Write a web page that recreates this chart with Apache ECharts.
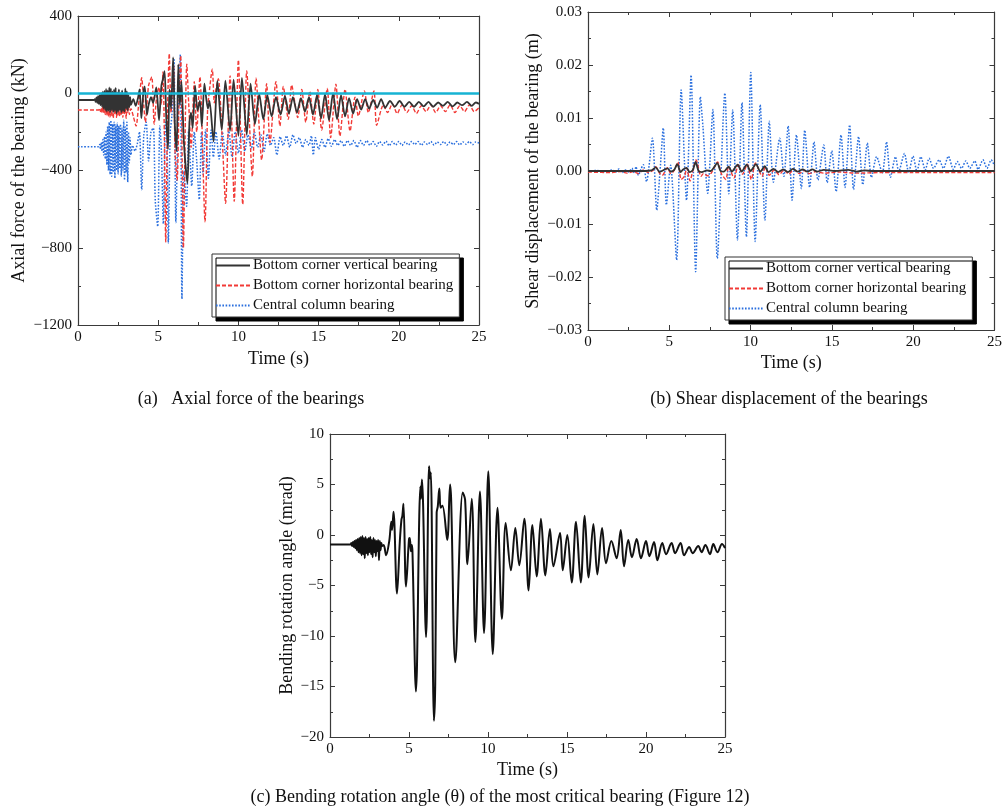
<!DOCTYPE html>
<html>
<head>
<meta charset="utf-8">
<script src="https://cdn.jsdelivr.net/npm/echarts@6/dist/echarts.min.js"></script>
<style>
  html, body { margin: 0; padding: 0; background: #fff; }
  #chart { width: 1005px; height: 810px; }
</style>
</head>
<body>
<div id="chart"></div>
<script>
// ---- (a) axial force of the bearings, kN : [time s, value]
const axialVertical = [[0,-35],[1.0,-35],
  [1.05,-30],[1.1,-45],[1.15,-22],[1.2,-50],[1.25,-15],[1.3,-55],[1.35,-10],[1.4,-62],[1.45,0],[1.5,-70],[1.55,8],[1.6,-80],[1.65,12],[1.7,-88],[1.75,22],[1.8,-95],[1.85,15],[1.9,-90],[1.95,30],[2.0,-100],[2.05,25],[2.1,-88],[2.15,10],[2.2,-98],[2.25,20],[2.3,-92],[2.35,28],[2.4,-105],[2.45,5],[2.5,-95],[2.55,20],[2.6,-88],[2.65,0],[2.7,-100],[2.75,15],[2.8,-92],[2.85,-5],[2.9,-96],[2.95,25],[3.0,-80],[3.05,10],[3.1,-90],[3.15,-10],[3.2,-72],[3.25,-20],[3.3,-60],
  [3.45,-30],[3.6,-65],[3.75,-20],[3.84,20],[3.95,-130],[4.08,10],[4.16,35],[4.3,-110],[4.4,-60],[4.55,-20],[4.68,-50],[4.88,30],[5.05,-140],[5.2,40],[5.3,75],[5.4,115],[5.5,-120],[5.61,-290],[5.7,20],[5.8,-80],[5.93,185],[6.03,-150],[6.15,-300],[6.25,150],[6.35,-60],[6.45,60],[6.6,-250],[6.82,-465],[6.95,-150],[7.05,-100],[7.15,-180],[7.3,40],[7.45,-90],[7.6,-40],[7.72,-170],[7.88,50],[8.0,-30],[8.1,-80],[8.2,-40],[8.45,-250],[8.69,65],[8.96,-190],[9.19,65],[9.48,-195],[9.7,70],[10.0,-220],[10.22,80],[10.52,-215],[10.76,50],[11.03,-160],[11.3,-5],[11.55,-135],[11.8,-10],[12.07,-120],[12.34,-20],[12.63,-110],[12.9,-15],[13.15,-105],[13.4,-20],[13.65,-100],[13.9,-25],[14.15,-95],[14.4,-20],[14.65,-110],[14.9,-10],[15.15,-130],[15.4,-5],[15.65,-140],[15.9,0],[16.15,-135],[16.4,-10],[16.65,-120],[16.9,-25],[17.15,-105],[17.4,-30],[17.65,-85],[17.9,-30],[18.15,-80],[18.4,-35],[18.65,-75],[18.9,-30],[19.15,-75],[19.45,-40],[19.75,-70],[20.05,-40],[20.35,-70],[20.65,-45],[20.95,-70],[21.25,-45],[21.55,-68],[21.85,-45],[22.15,-70],[22.45,-48],[22.75,-65],[23.05,-45],[23.35,-68],[23.65,-48],[23.95,-62],[24.25,-45],[24.55,-65],[24.8,-48],[25,-55]];

const axialHorizontal = [[0,-87],[1.3,-87],
  [1.35,-80],[1.4,-95],[1.45,-75],[1.5,-100],[1.55,-70],[1.6,-105],[1.65,-65],[1.7,-110],[1.75,-60],[1.8,-115],[1.85,-55],[1.9,-120],[1.95,-60],[2.0,-125],[2.05,-50],[2.1,-115],[2.15,-55],[2.2,-130],[2.25,-60],[2.3,-110],[2.35,-50],[2.4,-125],[2.45,-65],[2.5,-115],[2.55,-55],[2.6,-120],[2.65,-60],[2.7,-110],[2.75,-55],[2.8,-125],[2.85,-65],[2.9,-105],[2.95,-55],[3.0,-130],[3.05,-60],[3.1,-100],[3.15,-70],[3.2,-110],[3.3,-80],
  [3.45,-120],[3.62,-170],[3.8,-40],[3.97,80],[4.1,-60],[4.2,-150],[4.4,40],[4.6,85],[4.75,-160],[4.9,-20],[5.05,30],[5.18,-60],[5.3,110],[5.38,-200],[5.47,-770],[5.58,-100],[5.69,205],[5.8,-100],[5.95,150],[6.05,-300],[6.18,-450],[6.3,-50],[6.4,195],[6.57,-800],[6.7,-100],[6.78,150],[6.9,-50],[7.05,-280],[7.25,60],[7.4,-200],[7.6,85],[7.92,-665],[8.08,-80],[8.15,-20],[8.37,125],[8.5,-50],[8.6,20],[8.75,75],[9.0,-250],[9.2,-570],[9.48,90],[9.74,-560],[10.0,172],[10.27,-575],[10.52,115],[10.87,-430],[11.1,78],[11.45,-345],[11.76,50],[11.97,-255],[12.34,60],[12.59,-170],[12.8,35],[13.11,-135],[13.32,42],[13.7,-126],[13.95,20],[14.2,-150],[14.45,10],[14.7,-160],[14.95,20],[15.19,-190],[15.54,25],[15.75,-230],[16.08,47],[16.33,-222],[16.65,20],[16.96,-196],[17.27,-20],[17.48,-118],[17.85,12],[18.1,-100],[18.45,12],[18.62,-166],[19.04,-60],[19.3,-100],[19.6,-55],[19.9,-105],[20.2,-60],[20.5,-100],[20.8,-65],[21.1,-105],[21.4,-65],[21.7,-95],[22.0,-60],[22.3,-100],[22.6,-65],[22.9,-95],[23.2,-60],[23.5,-100],[23.8,-65],[24.1,-95],[24.4,-60],[24.7,-95],[25,-75]];

const axialCentral = [[0,-277],[1.3,-277],
  [1.35,-265],[1.4,-290],[1.45,-255],[1.5,-300],[1.55,-240],[1.6,-320],[1.65,-225],[1.7,-340],[1.75,-200],[1.8,-370],[1.85,-170],[1.9,-400],[1.95,-150],[2.0,-420],[2.05,-140],[2.1,-430],[2.15,-160],[2.2,-410],[2.25,-150],[2.3,-440],[2.35,-165],[2.4,-400],[2.45,-155],[2.5,-420],[2.55,-170],[2.6,-390],[2.65,-160],[2.7,-430],[2.75,-180],[2.8,-400],[2.85,-140],[2.9,-450],[2.95,-175],[3.0,-410],[3.05,-150],[3.1,-460],[3.15,-200],[3.2,-360],[3.25,-230],[3.3,-320],
  [3.4,-270],[3.55,-300],[3.7,-260],[3.83,-200],[3.97,-500],[4.1,-220],[4.25,-150],[4.4,-350],[4.55,-200],[4.7,-180],[4.82,-560],[4.97,-690],[5.1,-170],[5.2,-300],[5.32,-675],[5.45,-150],[5.55,-250],[5.63,-775],[5.75,-200],[5.85,-120],[5.98,180],[6.1,-670],[6.22,-200],[6.38,200],[6.48,-1065],[6.6,-400],[6.77,-585],[6.9,-190],[7.09,-480],[7.25,-200],[7.4,-350],[7.56,-550],[7.7,-200],[7.8,-420],[7.95,-190],[8.13,-440],[8.3,-190],[8.44,-330],[8.6,-200],[8.8,-340],[9.0,-200],[9.2,-320],[9.4,-195],[9.6,-330],[9.8,-200],[10.0,-310],[10.2,-190],[10.4,-300],[10.6,-215],[10.8,-290],[11.0,-200],[11.2,-280],[11.4,-215],[11.6,-300],[11.8,-210],[12.0,-270],[12.2,-230],[12.4,-320],[12.6,-225],[12.8,-270],[13.0,-220],[13.2,-280],[13.4,-215],[13.6,-260],[13.8,-230],[14.0,-280],[14.2,-240],[14.4,-270],[14.55,-220],[14.67,-320],[14.8,-230],[15.0,-290],[15.2,-240],[15.4,-280],[15.6,-235],[15.8,-275],[16.0,-240],[16.2,-270],[16.4,-245],[16.6,-275],[16.8,-245],[17.0,-270],[17.2,-245],[17.4,-280],[17.6,-245],[17.8,-270],[18.0,-245],[18.2,-270],[18.4,-250],[18.6,-275],[18.8,-250],[19.0,-268],[19.2,-248],[19.4,-272],[19.6,-250],[19.8,-268],[20.0,-250],[20.2,-270],[20.4,-252],[20.6,-268],[20.8,-250],[21.0,-266],[21.2,-250],[21.4,-270],[21.6,-252],[21.8,-266],[22.0,-250],[22.2,-268],[22.4,-252],[22.6,-266],[22.8,-250],[23.0,-268],[23.2,-252],[23.4,-266],[23.6,-250],[23.8,-268],[24.0,-252],[24.2,-264],[24.4,-250],[24.6,-266],[24.8,-252],[25,-258]];

// ---- (b) shear displacement of the bearings, m : [time s, value]
const shearVertical = [[0,0],[3.5,0],[3.9,0.0001],[4.17,0.0007],[4.4,-0.0002],[4.6,0.0001],[4.88,0.0005],[5.1,-0.0001],[5.3,0.0002],[5.49,0.0013],[5.7,-0.0002],[5.85,0.0003],[6.06,0.0006],[6.25,-0.0002],[6.45,0.0002],[6.62,0.0017],[6.8,0],[7.0,-0.0002],[7.3,0.0001],[7.55,0],[7.95,0.0015],[8.15,0],[8.35,-0.0001],[8.64,0.0008],[8.85,-0.0001],[9.2,0.0012],[9.45,-0.0001],[9.76,0.0012],[10.0,0],[10.33,0.0013],[10.6,-0.0001],[10.87,0.0009],[11.1,-0.0002],[11.4,0.0004],[11.7,-0.0002],[12.0,0.0003],[12.3,-0.0002],[12.6,0.0004],[12.9,-0.0001],[13.2,0.0003],[13.5,-0.0001],[13.8,0.0003],[14.1,-0.0001],[14.5,0.0002],[15.2,0],[16.0,0.0002],[16.5,-0.0001],[17.0,0.0001],[17.5,0],[25,0]];

const shearHorizontal = [[0,-0.0002],[1.5,-0.0003],[2.0,-0.0001],[2.4,-0.0004],[2.8,-0.0001],[3.1,-0.0005],[3.4,0.0002],[3.7,-0.0003],[4.0,0.0001],[4.17,0.0008],[4.4,-0.0004],[4.57,-0.0008],[4.88,0.0006],[5.1,-0.0005],[5.3,0.0001],[5.53,0.0017],[5.73,-0.0016],[5.95,-0.0009],[6.06,0.0006],[6.28,-0.0019],[6.4,-0.0005],[6.65,0.0021],[6.95,-0.001],[7.1,-0.0005],[7.36,-0.0009],[7.6,-0.0003],[7.97,0.0017],[8.2,-0.0005],[8.48,-0.0016],[8.64,0.0009],[8.98,-0.0013],[9.25,0.0012],[9.5,-0.0006],[9.8,0.0013],[10.04,-0.0016],[10.3,0.0015],[10.71,-0.001],[10.9,0.0008],[11.15,-0.0008],[11.45,0.0002],[11.75,-0.0007],[12.05,0.0002],[12.35,-0.0006],[12.65,0.0003],[13.0,-0.0005],[13.3,0.0001],[13.6,-0.0005],[14.0,-0.0001],[14.5,-0.0004],[15.5,-0.0002],[16.5,-0.0004],[18,-0.0003],[20,-0.0003],[25,-0.0003]];

const shearCentral = [[0,0],[0.5,0.0001],[1.0,-0.0001],[1.5,0.0002],[1.7,-0.0002],[1.9,0.0004],[2.1,-0.0003],[2.3,0.0002],[2.5,-0.0002],[2.7,0.0005],[2.85,-0.0004],[2.95,0.0008],[3.1,-0.0008],[3.25,0.0003],[3.4,0.0012],[3.6,-0.002],[3.96,0.0062],[4.23,-0.0074],[4.43,0.0],[4.63,0.0081],[4.82,-0.0064],[5.08,0.0011],[5.45,-0.0168],[5.73,0.0153],[6.06,-0.0055],[6.34,0.0181],[6.62,-0.019],[6.91,0.014],[7.07,0.0083],[7.36,-0.0042],[7.68,0.0116],[7.95,-0.0165],[8.42,0.0147],[8.66,-0.0043],[8.9,0.0115],[9.19,-0.013],[9.47,0.0129],[9.74,-0.0124],[10.01,0.0186],[10.28,-0.0133],[10.59,0.0125],[10.88,-0.0093],[11.15,0.0094],[11.4,-0.0021],[11.79,0.0062],[12.05,-0.001],[12.31,0.0085],[12.55,-0.0055],[12.82,0.0068],[13.12,-0.0033],[13.33,0.0077],[13.63,-0.0031],[13.9,0.0055],[14.14,-0.0017],[14.5,0.0049],[14.71,-0.0022],[14.99,0.0038],[15.26,-0.0039],[15.56,0.0068],[15.81,-0.0031],[16.09,0.0087],[16.33,-0.0035],[16.64,0.0065],[16.9,-0.0026],[17.18,0.0053],[17.43,-0.0012],[17.75,0.0027],[18.1,-0.0004],[18.36,0.0055],[18.6,-0.0012],[18.91,0.0027],[19.11,-0.0001],[19.46,0.0033],[19.72,-0.0003],[19.99,0.0028],[20.23,-0.0001],[20.47,0.0027],[20.74,0.0002],[20.98,0.0024],[21.25,0.0005],[21.59,0.0021],[21.86,0.0005],[22.16,0.0028],[22.47,0.0003],[22.71,0.0018],[22.97,0.0005],[23.24,0.0019],[23.48,0.0005],[23.79,0.0019],[23.99,0.0003],[24.29,0.0021],[24.54,0.0005],[24.8,0.0021],[25,0.001]];

// ---- (c) bending rotation angle, mrad : [time s, value]
const bendingAngle = [[0,-0.95],[1.3,-0.95],
  [1.35,-0.8],[1.4,-1.1],[1.45,-0.7],[1.5,-1.2],[1.55,-0.6],[1.6,-1.3],[1.65,-0.5],[1.7,-1.5],[1.75,-0.4],[1.8,-1.7],[1.85,-0.3],[1.9,-1.8],[1.95,-0.2],[2.0,-2.0],[2.05,-0.1],[2.1,-1.9],[2.15,-0.3],[2.2,-2.3],[2.25,-0.2],[2.3,-1.8],[2.35,-0.4],[2.4,-2.0],[2.45,-0.3],[2.5,-1.7],[2.55,-0.2],[2.6,-1.9],[2.65,-0.5],[2.7,-2.2],[2.75,-0.3],[2.8,-1.7],[2.85,-0.5],[2.9,-2.1],[2.95,-0.6],[3.0,-1.6],[3.05,-0.5],[3.1,-2.5],[3.15,-0.6],[3.2,-1.5],[3.25,-0.8],[3.3,-1.1],
  [3.4,-1.0],[3.55,-2.0],[3.75,-0.6],[3.88,1.3],[3.93,0.5],[4.02,2.3],[4.24,-5.8],[4.42,-0.6],[4.52,1.5],[4.58,1.9],[4.65,3.1],[4.81,-5.1],[5.0,-0.4],[5.05,-0.3],[5.12,-1.6],[5.18,-1.0],[5.22,-1.7],[5.44,-15.5],[5.65,1.9],[5.72,4.8],[5.76,3.6],[5.82,5.5],[6.08,-10.1],[6.27,6.8],[6.33,5.6],[6.38,6.2],[6.58,-18.4],[6.66,-14.8],[6.75,2.2],[6.82,2.8],[6.92,4.6],[7.0,2.7],[7.12,2.9],[7.42,-0.5],[7.6,5.0],[7.67,3.4],[7.93,-12.6],[8.4,4.2],[8.55,3.5],[8.7,-2.9],[8.97,3.6],[9.2,-10.6],[9.49,4.3],[9.75,-9.7],[10.02,6.3],[10.3,-11.8],[10.6,2.7],[10.88,-8.3],[11.12,1.2],[11.45,-3.5],[11.73,0.7],[11.98,-3.0],[12.3,1.6],[12.57,-5.5],[12.81,1.0],[13.08,-4.1],[13.35,1.6],[13.63,-4.0],[13.92,0.6],[14.14,-3.1],[14.56,0.2],[14.73,-3.5],[15.02,0.0],[15.3,-4.7],[15.57,1.3],[15.87,-4.7],[16.12,1.9],[16.37,-4.2],[16.67,1.1],[16.92,-3.9],[17.22,0.7],[17.47,-2.8],[17.81,-0.6],[18.14,-2.3],[18.4,0.5],[18.61,-3.1],[18.88,-0.5],[19.11,-2.2],[19.41,-0.4],[19.68,-2.3],[20.0,-0.6],[20.21,-2.1],[20.51,-0.7],[20.72,-2.5],[21.03,-0.8],[21.27,-1.9],[21.62,-0.8],[21.84,-1.8],[22.19,-0.8],[22.41,-2.0],[22.74,-1.2],[22.95,-1.8],[23.31,-1.1],[23.52,-1.7],[23.76,-1.0],[24.05,-1.9],[24.26,-0.9],[24.52,-1.7],[24.81,-0.9],[25,-1.3]];

const seriesNames = ['Bottom corner vertical bearing', 'Bottom corner horizontal bearing', 'Central column bearing'];
const captions = [
  '(a)   Axial force of the bearings',
  '(b) Shear displacement of the bearings',
  '(c) Bending rotation angle (\u03b8) of the most critical bearing (Figure 12)'
];
const timeTicks = { min: 0, max: 25, interval: 5 };
const axialTicks = { min: -1200, max: 400, interval: 400 };
const shearTicks = { min: -0.03, max: 0.03, interval: 0.01 };
const bendTicks = { min: -20, max: 10, interval: 5 };

const FONT = "'Liberation Serif', 'Times New Roman', serif";
const INK = '#111';
const FRAME = '#3a3a3a';

// tick labels use a true minus sign; digits fixes the decimals when given
const minusFmt = (digits) => (v) => {
  const mag = digits == null ? String(Math.abs(Math.round(v))) : Math.abs(v).toFixed(digits);
  return (v < -1e-12 ? '\u2212' : '') + mag;
};

function frameAxis(gridIndex, pos, ticks, extra) {
  return Object.assign({
    type: 'value', gridIndex, position: pos,
    min: ticks.min, max: ticks.max, interval: ticks.interval,
    axisLine: { show: true, onZero: false, lineStyle: { color: FRAME, width: 1.2 } },
    axisTick: { show: true, inside: true, length: 5, lineStyle: { color: FRAME } },
    minorTick: { show: true, splitNumber: 2, length: 3, lineStyle: { color: FRAME } },
    splitLine: { show: false },
    axisLabel: { show: false }
  }, extra || {});
}

function labelled(fmt, margin) {
  return { show: true, color: INK, fontFamily: FONT, fontSize: 15, margin, formatter: fmt, showMinLabel: true, showMaxLabel: true };
}

const nameStyle = { color: INK, fontFamily: FONT, fontSize: 18 };

const grids = [
  { left: 78, top: 16, width: 401, height: 309 },
  { left: 588, top: 12, width: 410, height: 318 },
  { left: 330, top: 434, width: 395, height: 303 }
];

const xAxes = [], yAxes = [];
const yTicks = [axialTicks, shearTicks, bendTicks];
const yFormats = [minusFmt(null), minusFmt(2), minusFmt(null)];
const yNames = ['Axial force of the bearing (kN)', 'Shear displacement of the bearing (m)', 'Bending rotation angle (mrad)'];
const yNameGaps = [50, 46, 32];
const xNameGaps = [25, 24, 24];
for (let g = 0; g < 3; g++) {
  xAxes.push(frameAxis(g, 'bottom', timeTicks, {
    axisLabel: labelled((v) => String(v), 5),
    name: 'Time (s)', nameLocation: 'middle', nameGap: xNameGaps[g], nameTextStyle: nameStyle
  }));
  xAxes.push(frameAxis(g, 'top', timeTicks));
  yAxes.push(frameAxis(g, 'left', yTicks[g], {
    axisLabel: labelled(yFormats[g], 6),
    name: yNames[g], nameLocation: 'middle', nameGap: yNameGaps[g], nameTextStyle: nameStyle
  }));
  yAxes.push(frameAxis(g, 'right', yTicks[g]));
}

const styles = [
  { color: '#333333', width: 1.8, type: 'solid' },
  { color: '#f23a36', width: 1.4, type: [4, 2] },
  { color: '#2a6fde', width: 1.5, type: [1.6, 1.6] }
];

function line(name, data, axisIdx, style, extra) {
  return Object.assign({
    name, type: 'line', data,
    xAxisIndex: axisIdx * 2, yAxisIndex: axisIdx * 2,
    showSymbol: false, symbol: 'none', smooth: 0.25,
    lineStyle: style, itemStyle: { color: style.color },
    animation: false, z: 3
  }, extra || {});
}

const series = [
  line(seriesNames[2], axialCentral, 0, styles[2]),
  line(seriesNames[1], axialHorizontal, 0, styles[1]),
  line(seriesNames[0], axialVertical, 0, styles[0], {
    markLine: {
      silent: true, symbol: 'none', animation: false,
      label: { show: false },
      lineStyle: { color: '#16b3d3', width: 2.5, type: 'solid' },
      data: [{ yAxis: 0 }]
    }
  }),
  line(seriesNames[2], shearCentral, 1, styles[2]),
  line(seriesNames[1], shearHorizontal, 1, styles[1]),
  line(seriesNames[0], shearVertical, 1, styles[0]),
  line('Bending rotation angle', bendingAngle, 2, { color: '#111', width: 2, type: 'solid' }, { smooth: 0.35 })
];

function legendAt(left, top) {
  return {
    orient: 'vertical', left, top,
    data: seriesNames,
    itemWidth: 34, itemHeight: 14, itemGap: 5,
    padding: [4, 6, 4, 3],
    itemStyle: { opacity: 0 },
    textStyle: { color: INK, fontFamily: FONT, fontSize: 15, padding: [0, 0, 0, -2] },
    backgroundColor: '#fff', borderColor: '#333', borderWidth: 1,
    shadowColor: '#000', shadowBlur: 0, shadowOffsetX: 4, shadowOffsetY: 4,
    selectedMode: false
  };
}

const option = {
  backgroundColor: '#fff',
  animation: false,
  grid: grids,
  xAxis: xAxes,
  yAxis: yAxes,
  legend: [legendAt(212, 254), legendAt(725, 257)],
  series,
  graphic: [
    { type: 'text', x: 251, y: 399, style: { text: captions[0], font: '18px ' + FONT, fill: INK, textAlign: 'center', textVerticalAlign: 'middle' } },
    { type: 'text', x: 789, y: 399, style: { text: captions[1], font: '18px ' + FONT, fill: INK, textAlign: 'center', textVerticalAlign: 'middle' } },
    { type: 'text', x: 500, y: 797, style: { text: captions[2], font: '18px ' + FONT, fill: INK, textAlign: 'center', textVerticalAlign: 'middle' } }
  ]
};

const chart = echarts.init(document.getElementById('chart'), null, { renderer: 'canvas' });
chart.setOption(option);
</script>
</body>
</html>
